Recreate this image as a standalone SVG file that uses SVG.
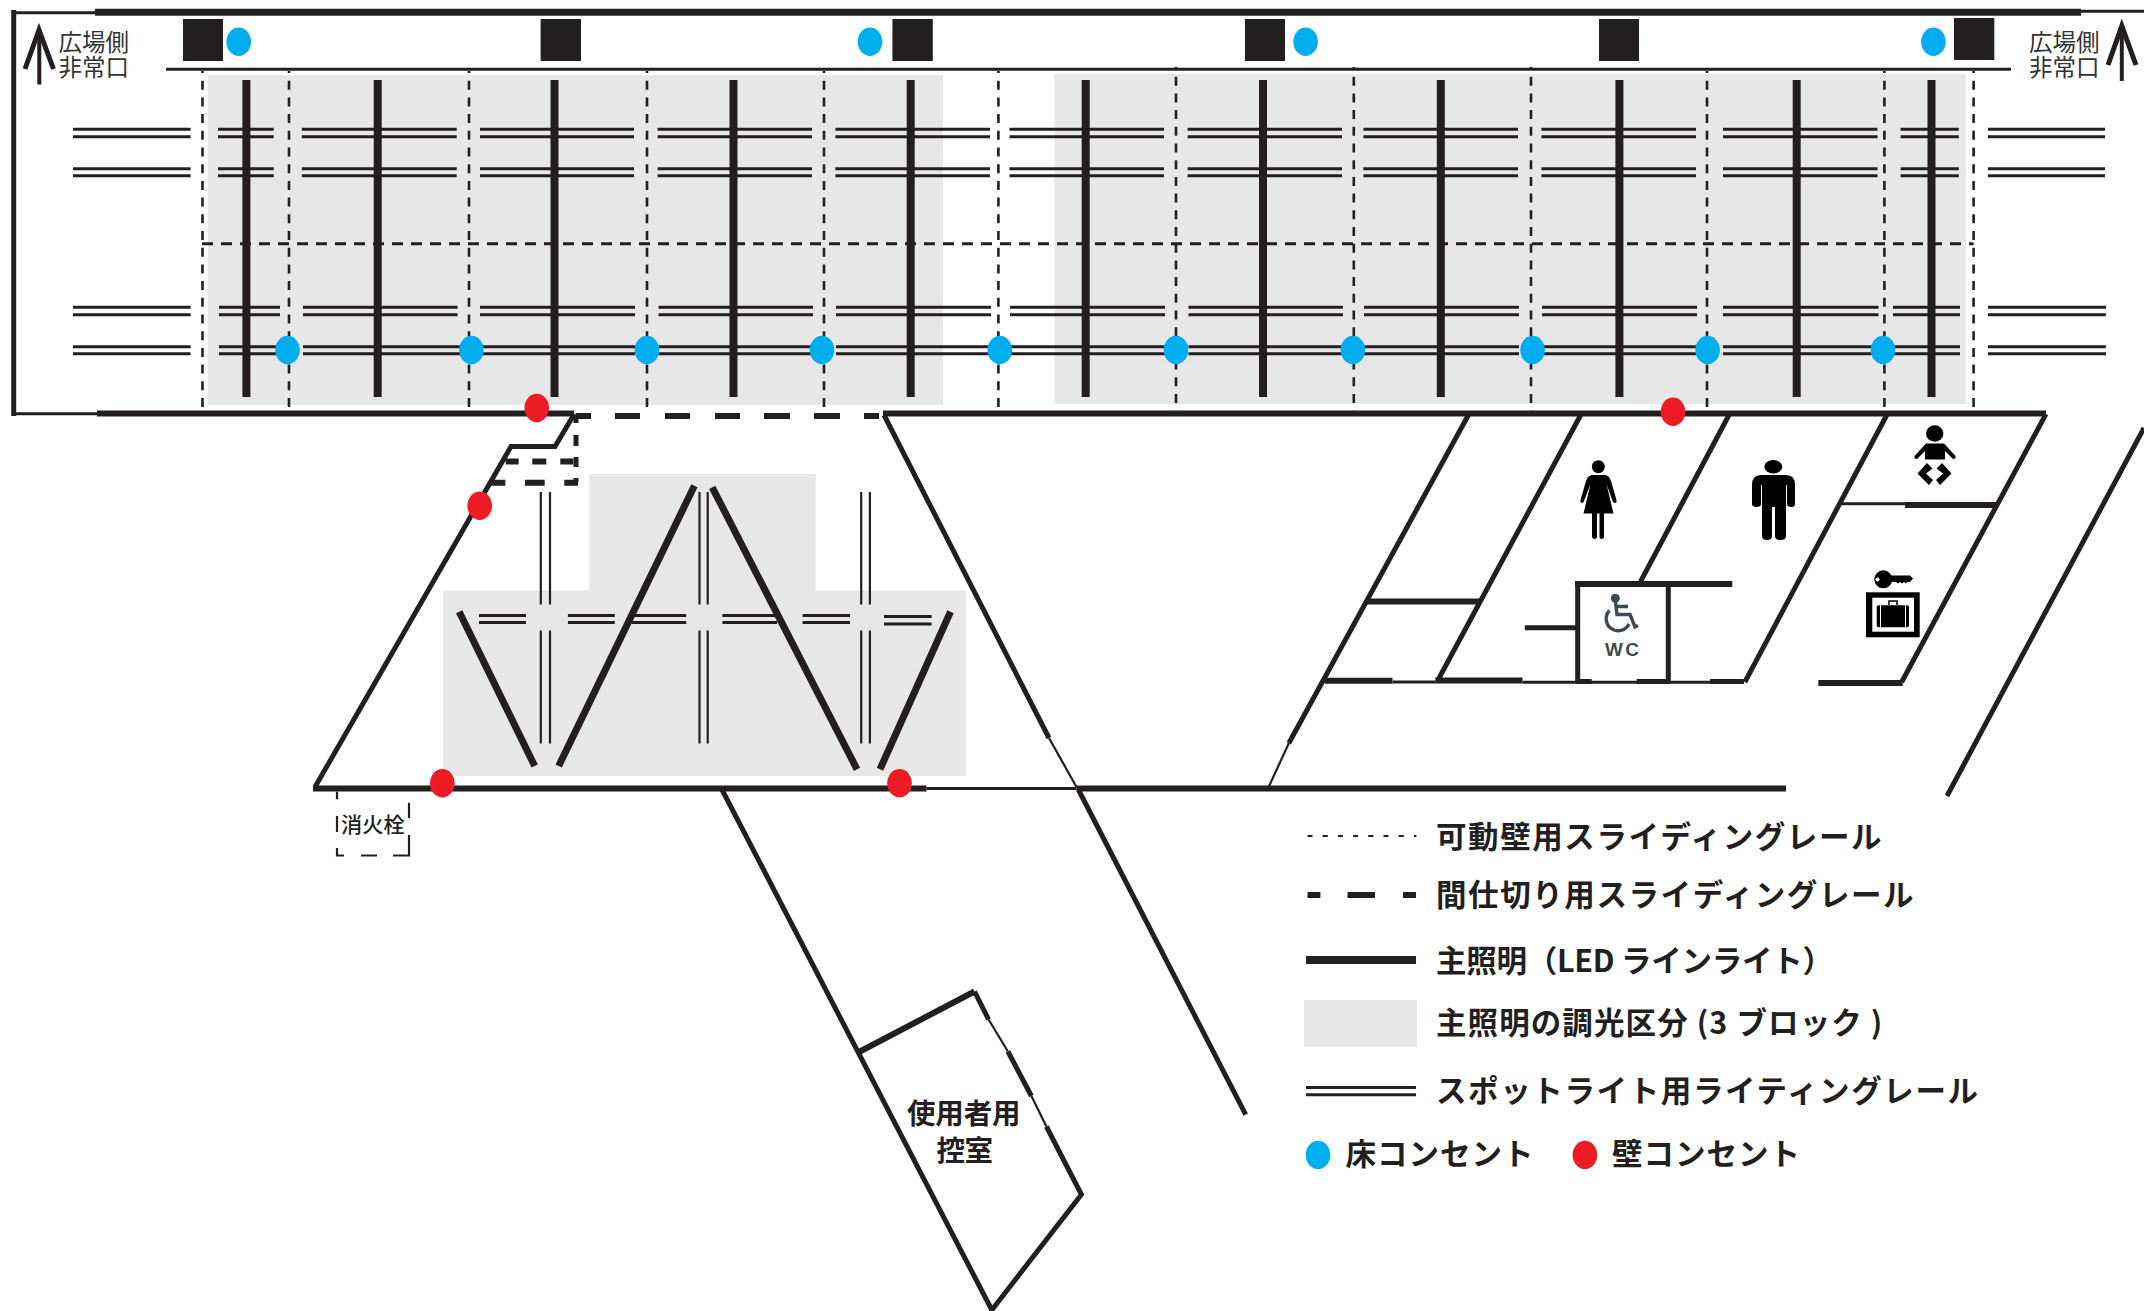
<svg xmlns="http://www.w3.org/2000/svg" xmlns:xlink="http://www.w3.org/1999/xlink" width="2144" height="1311" viewBox="0 0 2144 1311">
<style>
.k{fill:none;stroke:#231f20}
.f{fill:#231f20}
.gray{fill:#e7e7e8}
.blue{fill:#00aeef}
.red{fill:#ed1c24}
.s2{stroke-width:2.2}
.s3{stroke-width:3}
.s5{stroke-width:5}
.s6{stroke-width:6}
.s7{stroke-width:7}
.s8{stroke-width:8}
.wd{stroke-width:2.6;stroke-dasharray:9 7.7;stroke-dashoffset:7}
.hd{stroke-width:3;stroke-dasharray:11 8}
text{font-family:"Noto Sans CJK JP","Noto Sans",sans-serif;fill:#231f20}
.lg{font-size:30.5px;font-weight:700}
.ex{font-size:23.5px;font-weight:400;fill:#333}
.rm{font-size:28.5px;font-weight:700}
</style>
<defs>
<path id="railA" d="M73 0H190.6M218 0H273.7M301.8 0H456.7M480 0H634M657.6 0H812M835.4 0H990M1009.5 0H1164M1187.6 0H1342M1363.4 0H1518M1541.4 0H1696M1723 0H1877.5M1900.6 0H1958.8M1987.9 0H2105"/>
<path id="railB" d="M73 0H190.6M219 0H280M303 0H457.6M480 0H635M658.5 0H813M836 0H991M1010 0H1165M1188.5 0H1343M1364 0H1519M1542 0H1697M1723 0H1878.5M1893 0H1960M1988 0H2106"/>
<path id="railC" d="M73 0H190.6M219 0H280M303 0H635M658.5 0H813M836 0H1165M1188.5 0H1519M1542 0H1697M1723 0H1960M1988 0H2106"/>
<ellipse id="dot" rx="12.3" ry="14.2"/>
</defs>

<g id="dimming-zones">
<rect class="gray" x="208" y="75" width="735" height="330"/>
<rect class="gray" x="1054.5" y="74" width="911.5" height="330"/>
<path class="gray" d="M589.3 473.8H815.8V590.5H966.3V776H442.9V590.5H589.3Z"/>
</g>

<g id="movable-wall-rails">
<path class="k wd" d="M202.5 71V413M289 71V413M469 71V413M647 71V413M824 71V410M998.4 71V413M1176 67V413M1353.8 67V413M1531 67V413M1707 71V413M1884.4 71V413M1973.6 71V413"/>
<path class="k hd" d="M202 243.7H1973.6"/>
</g>

<g id="spot-rails">
<g class="k s3">
<use xlink:href="#railA" href="#railA" y="129.3"/><use xlink:href="#railA" href="#railA" y="136.7"/>
<use xlink:href="#railA" href="#railA" y="168.7"/><use xlink:href="#railA" href="#railA" y="175.7"/>
<use xlink:href="#railB" href="#railB" y="307.3"/><use xlink:href="#railB" href="#railB" y="314.7"/>
<use xlink:href="#railC" href="#railC" y="346.7"/><use xlink:href="#railC" href="#railC" y="353.7"/>
<path d="M479 615.5H526M479 622.5H526M567.9 615.5H614.8M567.9 622.5H614.8M631.6 615.5H686.2M631.6 622.5H686.2M722.4 615.5H777M722.4 622.5H777M802.6 615.5H850M802.6 622.5H850M884 616.5H931.6M884 624H931.6"/>
</g>
<path class="k s2" d="M540.8 492V604.5M550 492V604.5M699.5 492V604.5M707.7 492V604.5M861.2 492V604.5M869.9 492V604.5M540.8 630.5V743.5M550 630.5V743.5M699.5 630.5V743.5M707.7 630.5V743.5M861.2 630.5V743.5M869.9 630.5V743.5"/>
</g>

<g id="main-lights">
<path class="k s8" d="M246.4 80V397M377.7 80V397M554.5 80V397M733.5 80V397M910.7 80V397M1085.7 80V397M1263 80V397M1440.8 80V397M1619.4 80V397M1796.7 80V397M1931.5 80V397"/>
<path class="k s7" d="M459.2 611.7L534.7 766M558.7 766L694.4 485.7M712.2 487.3L857 769.3M880 769.3L950.5 611.7"/>
</g>

<g id="walls">
<path class="k s5" d="M13.7 10V416"/>
<path class="k s3" d="M14 12.7H95M13 413.7H97M2081 11.3H2144"/>
<path class="k s7" d="M95 12.3H2081"/>
<path class="k s3" d="M166 69.3H2011"/>
<path class="k s6" d="M97 413.5H574M883 413.5H2046M313 788.5H926.5M1076.5 788.5H1786"/>
<path class="k s3" d="M926.5 788.5H1076.5"/>
<path class="k s5" d="M574.3 414L555 446.5H511L315 787M884 415L1049 738"/>
<path class="k s2" d="M1049 738L1076.5 787"/>
</g>

<g id="partition-rails">
<path class="k s6" d="M575.5 416H591M615 416H640M665 416H690M715 416H740M764 416H790M814 416H840M864 416H879M505.7 461.5H518.7M532.3 461.5H546.3M560.3 461.5H573.3M490 482.8H505.3M525 482.8H544.7M564.3 482.8H578"/>
<path class="k s5" d="M576 417V423M576 435V446M576 457V467M576 478V482"/>
</g>

<g id="hydrant">
<path class="k s2" d="M337 791.7V799.3M337 816V832M337 848V855.5H344M361 855.5H377M393 855.5H409V835M409 818V802.7"/>
<text x="341" y="831.5" font-size="21" font-weight="500" textLength="63.6" lengthAdjust="spacingAndGlyphs">消火栓</text>
</g>

<g id="waiting-room">
<path class="k s5" d="M721.4 788.5L991.8 1310L1081.4 1194.5L1046.4 1126.5M1031.4 1096L1007.9 1051.5M988.6 1019.5L974.5 991.5"/>
<path class="k s6" d="M858 1052.5L974.5 991.5"/>
<path class="k s2" d="M1046.4 1126.5L1031.4 1096M1007.9 1051.5L988.6 1019.5"/>
<path class="k s5" d="M1078.6 790L1245.7 1114.6"/>
<text class="rm" x="907" y="1124" textLength="113.6">使用者用</text>
<text class="rm" x="936.4" y="1161" textLength="56.5">控室</text>
</g>

<g id="toilet-rooms">
<path class="k s5" d="M1468.4 415L1288.8 743.3M1580.7 415L1438 680M1729 415L1640.5 581.7M1886.8 415L1744.9 682M2046 414L1901.7 682M2144 428L1947 796"/>
<path class="k s2" d="M1288.8 743.3L1268.8 786.7"/>
<path class="k s6" d="M1366.9 601.5H1479.8M1325 680.8H1392.5M1435.3 680.5H1522.5M1575 584H1732.3M1818.3 683H1902.7M1905 505H1996.7"/>
<path class="k s3" d="M1392.5 682H1435.3M1522.5 682.3H1710M1841.7 503.8H1905"/>
<path class="k s5" d="M1577.7 581.7V683M1668.3 583V683M1524.8 627.8H1577M1576 681.5H1591.7M1636.7 681.5H1670M1710 681.5H1744"/>
</g>

<g id="icon-women">
<circle cx="1598.3" cy="466.7" r="6.5"/>
<path d="M1592 475H1605Q1609 475 1611 481L1616.5 500Q1617 503 1615 503Q1613 503 1612.5 501L1606.5 484L1613.5 513.5H1604V536Q1604 539 1601.5 539Q1599.5 539 1599.5 536V513.5H1597V536Q1597 539 1594.8 539Q1592 539 1592 536V513.5H1583.5L1590.5 484L1584 501Q1583.5 503 1582 503Q1580 503 1580.5 500L1586 481Q1588 475 1592 475Z"/>
</g>
<g id="icon-men">
<ellipse cx="1773.3" cy="466.7" rx="9" ry="6.7"/>
<path d="M1761 475H1786Q1795 475 1795 485V504Q1795 507 1791.5 507Q1787 507 1787 504V485H1786V536Q1786 540 1780.5 540Q1775 540 1775 536V507H1772V536Q1772 540 1767 540Q1762 540 1762 536V485H1761V504Q1761 507 1756.5 507Q1752 507 1752 504V485Q1752 475 1761 475Z"/>
</g>
<g id="icon-baby">
<ellipse cx="1934.7" cy="433.5" rx="8.7" ry="8.2"/>
<path d="M1926 443.5H1944L1955.5 456Q1956 459.5 1953 459L1945 451V459.5H1925V451L1917 459Q1914 459.5 1914.5 456Z"/>
<path d="M1927 463L1932.5 468.5L1926 473.5L1933 480L1929 485L1917.5 473.5ZM1942 463L1936.5 468.5L1943 473.5L1936 480L1940 485L1951.5 473.5Z"/>
</g>
<g id="icon-locker">
<circle cx="1883.3" cy="579.3" r="9"/>
<circle cx="1877.5" cy="579.5" r="2" fill="#fff"/>
<path d="M1888 575.5H1910L1913 578.5L1910 582H1907L1906 583.5L1904 582L1902 583.5L1900 582L1898 583.5L1896 582H1890Z"/>
<rect x="1866" y="592.3" width="53.7" height="45"/>
<rect x="1872.3" y="597.7" width="41.7" height="34" fill="#fff"/>
<rect x="1876.7" y="605.3" width="32.3" height="22" rx="2"/>
<path d="M1889 605V601H1897V605" fill="none" stroke="#000" stroke-width="1.5"/>
<path d="M1880.5 605V627M1905.5 605V627" stroke="#fff" stroke-width="1"/>
</g>
<g id="icon-wheelchair">
<circle cx="1615.3" cy="598.3" r="4.5" fill="#3d4a52"/>
<path d="M1615.5 602L1617 614.5H1630L1635 627L1638 625.5M1617 606.5H1628M1609.5 610.5A12 12 0 1 0 1629 624" fill="none" stroke="#3d4a52" stroke-width="3.4"/>
<text x="1605" y="655.5" font-size="19" font-weight="700" style="fill:#3d4a52;font-family:'Liberation Sans',sans-serif" textLength="34">WC</text>
</g>

<g id="floor-outlets">
<use xlink:href="#dot" href="#dot" class="blue" x="238.7" y="41.7"/><use xlink:href="#dot" href="#dot" class="blue" x="870" y="41.7"/><use xlink:href="#dot" href="#dot" class="blue" x="1305.6" y="41.7"/><use xlink:href="#dot" href="#dot" class="blue" x="1933.4" y="41.7"/>
<use xlink:href="#dot" href="#dot" class="blue" x="287.5" y="350"/><use xlink:href="#dot" href="#dot" class="blue" x="471.4" y="350"/><use xlink:href="#dot" href="#dot" class="blue" x="646.9" y="350"/><use xlink:href="#dot" href="#dot" class="blue" x="822" y="350"/><use xlink:href="#dot" href="#dot" class="blue" x="999.8" y="350"/><use xlink:href="#dot" href="#dot" class="blue" x="1176" y="350"/><use xlink:href="#dot" href="#dot" class="blue" x="1352.9" y="350"/><use xlink:href="#dot" href="#dot" class="blue" x="1532.6" y="350"/><use xlink:href="#dot" href="#dot" class="blue" x="1707.6" y="350"/><use xlink:href="#dot" href="#dot" class="blue" x="1883" y="350"/>
</g>
<g id="wall-outlets">
<use xlink:href="#dot" href="#dot" class="red" x="536.7" y="408"/><use xlink:href="#dot" href="#dot" class="red" x="1673" y="411.7"/><use xlink:href="#dot" href="#dot" class="red" x="479.7" y="505.7"/><use xlink:href="#dot" href="#dot" class="red" x="442.3" y="783.3"/><use xlink:href="#dot" href="#dot" class="red" x="899.5" y="783.3"/>
</g>
<g id="columns" class="f">
<rect x="183" y="19" width="40" height="42"/><rect x="540.6" y="19" width="40.4" height="42"/><rect x="892.4" y="19" width="40.4" height="42"/><rect x="1245" y="19" width="40" height="42"/><rect x="1599" y="19" width="40" height="42"/><rect x="1954" y="18" width="40.3" height="42"/>
</g>

<g id="exit-left">
<path class="k" stroke-width="4" d="M39.3 30V84.5"/>
<path class="k s5" d="M25 69L39 30L53.5 69"/>
<text class="ex"><tspan x="58.5" y="51">広場側</tspan><tspan x="58.5" y="75.5">非常口</tspan></text>
</g>
<g id="exit-right">
<path class="k" stroke-width="4" d="M2121.8 26V81"/>
<path class="k s5" d="M2108 65L2121.8 26L2136 65"/>
<text class="ex"><tspan x="2029" y="51">広場側</tspan><tspan x="2029" y="75.5">非常口</tspan></text>
</g>

<g id="legend">
<path class="k s2" stroke-dasharray="5 10.2" d="M1307.5 836H1416.4"/>
<path class="k s6" d="M1307.5 895H1320.4M1347.5 895H1375M1403 895H1416"/>
<path class="k s8" d="M1306 960H1416"/>
<rect class="gray" x="1304" y="1000" width="113" height="46.7"/>
<path class="k s3" d="M1306 1087.5H1416M1306 1094.8H1416"/>
<use xlink:href="#dot" href="#dot" class="blue" x="1318" y="1155"/>
<use xlink:href="#dot" href="#dot" class="red" x="1584.9" y="1155"/>
<text class="lg" x="1436" y="847.5" textLength="445.5">可動壁用スライディングレール</text>
<text class="lg" x="1436" y="905.5" textLength="477.6">間仕切り用スライディングレール</text>
<text class="lg" x="1436" y="971.5" textLength="397">主照明（LED ラインライト）</text>
<text class="lg" x="1436" y="1033.5" textLength="446.4">主照明の調光区分 (3 ブロック )</text>
<text class="lg" x="1436" y="1101.5" textLength="542">スポットライト用ライティングレール</text>
<text class="lg" x="1345.6" y="1164.5" textLength="188">床コンセント</text>
<text class="lg" x="1611.9" y="1164.5" textLength="188">壁コンセント</text>
</g>
</svg>
